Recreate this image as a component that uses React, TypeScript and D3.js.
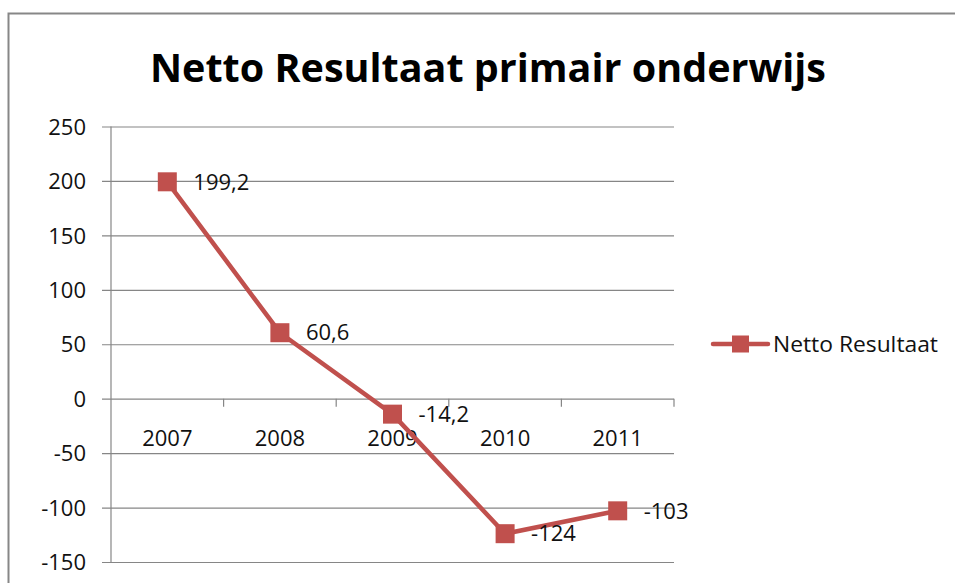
import * as React from 'react'
import * as d3 from 'd3'

const years = ['2007', '2008', '2009', '2010', '2011']
const values = [199.2, 60.6, -14.2, -124, -103]
const yTicks = [250, 200, 150, 100, 50, 0, -50, -100, -150]
const seriesName = 'Netto Resultaat'
const title = 'Netto Resultaat primair onderwijs'

const red = '#C0504D'
const grid = '#868686'
const font = "'Open Sans', 'Liberation Sans', sans-serif"

const fmt = (v: number) => String(v).replace('.', ',')

const App: React.FC = () => {
	const dims = { width: 955, height: 583, left: 111, right: 674, top: 126.5, bottom: 562 }
	const svgRef = React.useRef<SVGSVGElement>(null)

	React.useEffect(() => {
		const svg = d3.select(svgRef.current)
		svg.selectAll('*').remove()

		const y = d3.scaleLinear().domain([-150, 250]).range([dims.bottom, dims.top])
		const x = d3.scaleBand().domain(years).range([dims.left, dims.right])
		const cx = (d: string) => x(d)! + x.bandwidth() / 2

		// frame
		svg.append('rect')
			.attr('x', 8.5).attr('y', 13.5)
			.attr('width', 960).attr('height', 600)
			.attr('fill', 'white').attr('stroke', '#878787').attr('stroke-width', 2)

		svg.append('text')
			.attr('x', 488).attr('y', 82)
			.attr('text-anchor', 'middle')
			.attr('font-family', font).attr('font-weight', 'bold')
			.attr('font-size', 40)
			.attr('textLength', 676).attr('lengthAdjust', 'spacingAndGlyphs')
			.text(title)

		// gridlines + y axis
		const yAxis = d3.axisLeft(y).tickValues(yTicks).tickSize(dims.right - dims.left + 9)
			.tickFormat(d => `${d}`)
		const yg = svg.append('g')
			.attr('transform', `translate(${dims.right}, 0)`)
			.call(yAxis)
		yg.select('.domain').remove()
		yg.selectAll('line').attr('stroke', grid).attr('stroke-width', 1.2)
		yg.selectAll('text')
			.attr('font-family', font).attr('font-size', 22).attr('fill', '#111')
			.attr('x', dims.left - dims.right - 25)
			.attr('dy', '0.35em')

		svg.append('line')
			.attr('x1', dims.left).attr('x2', dims.left)
			.attr('y1', dims.top).attr('y2', dims.bottom)
			.attr('stroke', grid).attr('stroke-width', 1.2)

		// x axis on zero
		const xAxis = d3.axisBottom(x).tickSize(0).tickPadding(32)
		const xg = svg.append('g')
			.attr('transform', `translate(0, ${y(0)})`)
			.call(xAxis)
		xg.select('.domain').remove()
		xg.selectAll('text').attr('font-family', font).attr('font-size', 22).attr('fill', '#111')
		xg.selectAll('.bnd')
			.data(years.slice(1).concat(['end']))
			.enter().append('line')
			.attr('x1', (_, i) => dims.left + x.step() * (i + 1))
			.attr('x2', (_, i) => dims.left + x.step() * (i + 1))
			.attr('y1', 0).attr('y2', 8)
			.attr('stroke', grid).attr('stroke-width', 1.2)

		// series
		const line = d3.line<number>()
			.x((_, i) => cx(years[i]))
			.y(d => y(d))
		svg.append('path')
			.datum(values)
			.attr('d', line)
			.attr('fill', 'none').attr('stroke', red).attr('stroke-width', 4.5)
			.attr('stroke-linejoin', 'round')

		svg.selectAll('.mk')
			.data(values)
			.enter().append('rect')
			.attr('x', (_, i) => cx(years[i]) - 9.5)
			.attr('y', d => y(d) - 9.5)
			.attr('width', 19).attr('height', 19)
			.attr('fill', red)

		svg.selectAll('.lbl')
			.data(values)
			.enter().append('text')
			.attr('x', (_, i) => cx(years[i]) + 26)
			.attr('y', d => y(d))
			.attr('dy', '0.35em')
			.attr('font-family', font).attr('font-size', 22).attr('fill', '#111')
			.text(d => fmt(d))

		// legend
		const lg = svg.append('g').attr('transform', 'translate(713, 344)')
		lg.append('line').attr('x1', 0).attr('x2', 55).attr('y1', 0).attr('y2', 0)
			.attr('stroke', red).attr('stroke-width', 4.5).attr('stroke-linecap', 'round')
		lg.append('rect').attr('x', 19).attr('y', -8.5).attr('width', 17).attr('height', 17).attr('fill', red)
		lg.append('text').attr('x', 60).attr('y', 0).attr('dy', '0.35em')
			.attr('font-family', font).attr('font-size', 22).attr('fill', '#111')
			.attr('textLength', 165).attr('lengthAdjust', 'spacingAndGlyphs')
			.text(seriesName)
	})

	return (
		<svg ref={svgRef} width={dims.width} height={dims.height}
			style={{ position: 'absolute', left: 0, top: 0, background: 'white' }} />
	)
}

export default App
